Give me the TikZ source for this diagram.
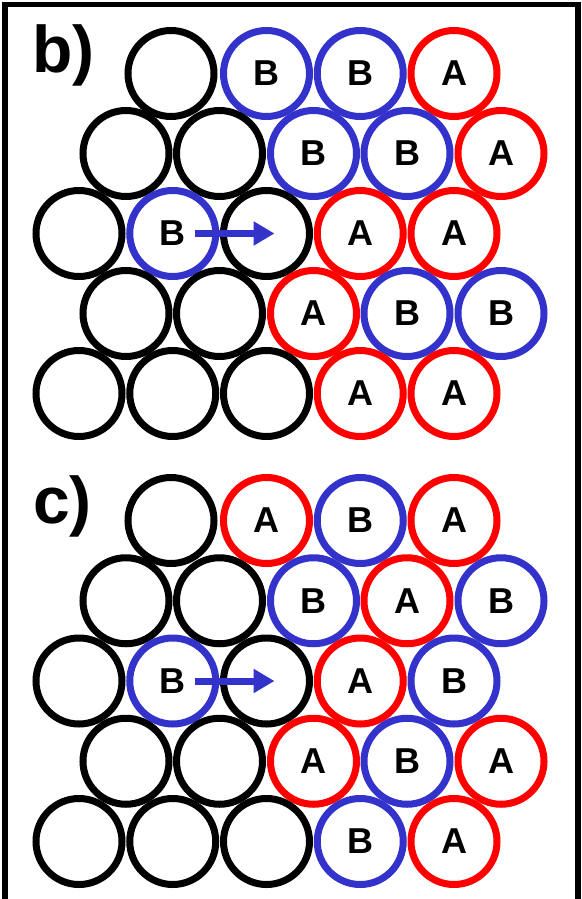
\documentclass[tikz,border=0pt]{standalone}
\usepackage{fontspec}
\setmainfont{Liberation Sans}
\usepackage{xcolor}
\definecolor{stblue}{RGB}{51,51,204}
\definecolor{stred}{RGB}{255,0,0}
\usepackage{tikz}
\usetikzlibrary{arrows.meta,positioning}

\begin{document}
\begin{tikzpicture}[x=1pt, y=-1pt,
  atom/.style={circle, line width=7pt, minimum size=86pt, inner sep=0pt,
               font=\fontsize{36}{36}\selectfont\bfseries, text=black},
  blk/.style={atom, draw=black},
  sitea/.style={atom, draw=stred},
  siteb/.style={atom, draw=stblue},
  arr/.style={-{Triangle[length=21pt, width=23pt]}, line width=7pt, draw=stblue},
  lbl/.style={anchor=base west, inner sep=0pt,
              font=\fontsize{66}{66}\selectfont\bfseries}
]
\useasboundingbox (0,0) rectangle (581,899);

% Frame
\draw[line width=5.5pt] (5,899) -- (5,4.5) -- (578,4.5) -- (578,899);

% Panel labels
\node[lbl] (lblb) at (32,73)  {b)};
\node[lbl] (lblc) at (33,523) {c)};

% Panel b, row 1
\node[blk]   (b11) at (171,73.5)    {};
\node[siteb] (b12) at (266.5,73.5)  {B};
\node[siteb] (b13) at (360.25,73.5) {B};
\node[sitea] (b14) at (454,73.5)    {A};
% Panel b, row 2
\node[blk]   (b21) at (126,153.5)   {};
\node[blk]   (b22) at (219.5,153.5) {};
\node[siteb] (b23) at (313.5,153.5) {B};
\node[siteb] (b24) at (407,153.5)   {B};
\node[sitea] (b25) at (501,153.5)   {A};
% Panel b, row 3
\node[blk]   (b31) at (79,233.5)     {};
\node[siteb] (b32) at (172.75,233.5) {B};
\node[blk]   (b33) at (266.5,233.5)  {};
\node[sitea] (b34) at (360.25,233.5) {A};
\node[sitea] (b35) at (454,233.5)    {A};
% Panel b, row 4
\node[blk]   (b41) at (126,313.5)   {};
\node[blk]   (b42) at (219.5,313.5) {};
\node[sitea] (b43) at (313.5,313.5) {A};
\node[siteb] (b44) at (407,313.5)   {B};
\node[siteb] (b45) at (501,313.5)   {B};
% Panel b, row 5
\node[blk]   (b51) at (79,393.5)     {};
\node[blk]   (b52) at (172.75,393.5) {};
\node[blk]   (b53) at (266.5,393.5)  {};
\node[sitea] (b54) at (360.25,393.5) {A};
\node[sitea] (b55) at (454,393.5)    {A};

% Panel c, row 1
\node[blk]   (c11) at (171,520.5)    {};
\node[sitea] (c12) at (266.5,520.5)  {A};
\node[siteb] (c13) at (360.25,520.5) {B};
\node[sitea] (c14) at (454,520.5)    {A};
% Panel c, row 2
\node[blk]   (c21) at (126,600.75)   {};
\node[blk]   (c22) at (219.5,600.75) {};
\node[siteb] (c23) at (313.5,600.75) {B};
\node[sitea] (c24) at (407,600.75)   {A};
\node[siteb] (c25) at (501,600.75)   {B};
% Panel c, row 3
\node[blk]   (c31) at (79,681)     {};
\node[siteb] (c32) at (172.75,681) {B};
\node[blk]   (c33) at (266.5,681)  {};
\node[sitea] (c34) at (360.25,681) {A};
\node[siteb] (c35) at (454,681)    {B};
% Panel c, row 4
\node[blk]   (c41) at (126,761.25)   {};
\node[blk]   (c42) at (219.5,761.25) {};
\node[sitea] (c43) at (313.5,761.25) {A};
\node[siteb] (c44) at (407,761.25)   {B};
\node[sitea] (c45) at (501,761.25)   {A};
% Panel c, row 5
\node[blk]   (c51) at (79,841.5)     {};
\node[blk]   (c52) at (172.75,841.5) {};
\node[blk]   (c53) at (266.5,841.5)  {};
\node[siteb] (c54) at (360.25,841.5) {B};
\node[sitea] (c55) at (454,841.5)    {A};

% Moves
\draw[arr] ([xshift=22pt]b32.center) -- ([xshift=8pt]b33.center);
\draw[arr] ([xshift=22pt]c32.center) -- ([xshift=8pt]c33.center);
\end{tikzpicture}
\end{document}
